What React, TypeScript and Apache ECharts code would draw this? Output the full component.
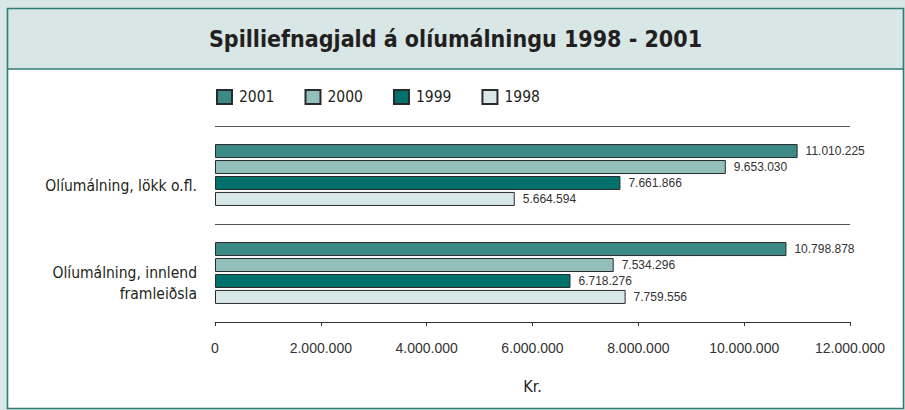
import React, { useEffect, useRef } from "react";
import * as echarts from "echarts";

const categories = ["Olíumálning, lökk o.fl.", "Olíumálning, innlend\nframleiðsla"];
const years = ["2001", "2000", "1999", "1998"];
const values2001 = [11010225, 10798878];
const values2000 = [9653030, 7534296];
const values1999 = [7661866, 6718276];
const values1998 = [5664594, 7759556];
const xTicks = { min: 0, max: 12000000, interval: 2000000 };
const titleText = "Spilliefnagjald á olíumálningu 1998 - 2001";
const axisName = "Kr.";

const colors = ["#3c8a86", "#93bfbd", "#00716b", "#d8e8e8"];
const COND = '"DejaVu Sans Condensed", "Liberation Sans Narrow", "Arial Narrow", sans-serif';
const SANS = '"Liberation Sans", Arial, sans-serif';

const fmt = (v: number) => String(Math.round(v)).replace(/\B(?=(\d{3})+(?!\d))/g, ".");

export default function App() {
  const ref = useRef<HTMLDivElement>(null);
  useEffect(() => {
    document.body.style.margin = "0";
    const chart = echarts.init(ref.current!, undefined, { renderer: "svg" });
    const seriesData = [values2001, values2000, values1999, values1998];
    chart.setOption({
      animation: false,
      backgroundColor: "#ffffff",
      graphic: [
        { type: "rect", z: -10, silent: true, shape: { x: 0, y: 0, width: 905, height: 410 }, style: { fill: "#d8e6e6" } },
        { type: "rect", z: -9, silent: true, shape: { x: 7.5, y: 69, width: 896, height: 339 }, style: { fill: "#ffffff" } },
        { type: "rect", z: -8, silent: true, shape: { x: 7.5, y: 8.5, width: 896, height: 400 }, style: { fill: "none", stroke: "#2f7c77", lineWidth: 1.6 } },
        { type: "line", z: -8, silent: true, shape: { x1: 7.5, y1: 69, x2: 903.5, y2: 69 }, style: { stroke: "#2f7c77", lineWidth: 1.6 } },
        {
          type: "text",
          x: 455.5,
          y: 39,
          style: {
            text: titleText,
            align: "center",
            verticalAlign: "middle",
            fontFamily: COND,
            fontWeight: "bold",
            fontSize: 23,
            fill: "#231f20",
          },
        },
      ],
      legend: {
        left: 216,
        top: 89,
        padding: 0,
        itemWidth: 15,
        itemHeight: 14,
        itemGap: 30,
        icon: "rect",
        textStyle: { fontFamily: COND, fontSize: 15.5, color: "#231f20", padding: [0, 0, 0, 2] },
        data: years,
      },
      grid: { left: 215, right: 55, top: 126, height: 196, containLabel: false },
      xAxis: {
        type: "value",
        min: xTicks.min,
        max: xTicks.max,
        interval: xTicks.interval,
        name: axisName,
        nameLocation: "middle",
        nameGap: 56,
        nameTextStyle: { fontFamily: COND, fontSize: 16, color: "#231f20" },
        axisLine: { show: true, lineStyle: { color: "#333333", width: 1 } },
        axisTick: { show: true, length: 4, lineStyle: { color: "#333333" } },
        splitLine: { show: false },
        axisLabel: { fontFamily: SANS, fontSize: 14, color: "#333333", margin: 19, formatter: (v: number) => fmt(v) },
      },
      yAxis: {
        type: "category",
        inverse: true,
        data: categories,
        axisLine: { show: false },
        axisTick: { show: false },
        splitLine: { show: true, lineStyle: { color: "#555555", width: 1 } },
        axisLabel: {
          fontFamily: COND,
          fontSize: 15.5,
          color: "#231f20",
          margin: 18,
          align: "right",
          lineHeight: 21,
          formatter: (v: string) => "\n" + v,
        },
      },
      series: years.map((y, i) => ({
        name: y,
        type: "bar",
        data: seriesData[i],
        barWidth: 14,
        barGap: "14%",
        itemStyle: { color: colors[i], borderColor: "#2a2a2a", borderWidth: 1 },
        label: {
          show: true,
          position: "right",
          distance: 8,
          fontFamily: SANS,
          fontSize: 12,
          color: "#333333",
          formatter: (p: any) => fmt(p.value),
        },
      })),
    });
    return () => chart.dispose();
  }, []);
  return <div ref={ref} style={{ width: 905, height: 410 }} />;
}
